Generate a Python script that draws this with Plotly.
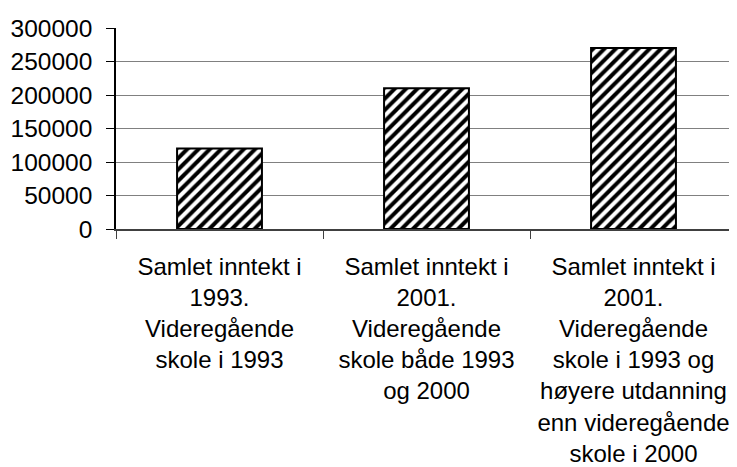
import plotly.graph_objects as go

categories = [
    "Samlet inntekt i<br>1993.<br>Videregående<br>skole i 1993",
    "Samlet inntekt i<br>2001.<br>Videregående<br>skole både 1993<br>og 2000",
    "Samlet inntekt i<br>2001.<br>Videregående<br>skole i 1993 og<br>høyere utdanning<br>enn videregående<br>skole i 2000",
]
values = [120000, 210000, 270000]
y_ticks = [0, 50000, 100000, 150000, 200000, 250000, 300000]
y_tick_labels = [str(v) for v in y_ticks]

font_family = "Liberation Sans, Arial, sans-serif"

fig = go.Figure(
    go.Bar(
        x=categories,
        y=values,
        width=0.41,
        marker=dict(
            color="white",
            line=dict(color="black", width=2),
            pattern=dict(shape="/", fgcolor="black", bgcolor="white", size=8, solidity=0.5, fgopacity=1),
        ),
    )
)

# page body has an 8px margin, so the figure is 8px smaller and shifted
fig.update_layout(
    width=729,
    height=459,
    margin=dict(l=108, r=0, t=20, b=238, autoexpand=False),
    paper_bgcolor="white",
    plot_bgcolor="white",
    showlegend=False,
    font=dict(family=font_family, size=24, color="black"),
)

fig.update_xaxes(
    showline=True,
    linecolor="#404040",
    linewidth=1.5,
    ticks="outside",
    tickson="boundaries",
    ticklen=8,
    tickcolor="#404040",
    tickfont=dict(size=24),
    ticklabelstandoff=15,
    showgrid=False,
    automargin=False,
)

fig.update_yaxes(
    range=[0, 300000],
    tickvals=y_ticks,
    ticktext=y_tick_labels,
    showline=True,
    linecolor="black",
    linewidth=1.5,
    ticks="outside",
    ticklen=8,
    tickcolor="black",
    showgrid=True,
    gridcolor="#808080",
    gridwidth=1.2,
    zeroline=False,
    tickfont=dict(size=24.5),
    ticklabelstandoff=9,
    automargin=False,
)

fig.write_html("out.html")
